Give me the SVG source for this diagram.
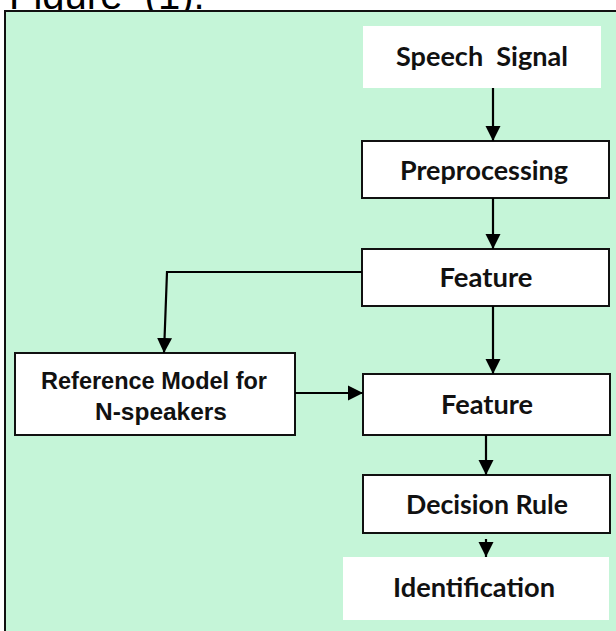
<svg xmlns="http://www.w3.org/2000/svg" width="616" height="631" viewBox="0 0 616 631">
  <style>
    .panel { fill: #c5f5d8; stroke: #111; stroke-width: 2; }
    .box { fill: #fff; stroke: #111; stroke-width: 2; }
    .plain { fill: #fff; stroke: none; }
    .lbl { font-family: Lato, "Open Sans", sans-serif; font-weight: 700; font-size: 27.5px; fill: #111; text-anchor: middle; white-space: pre; }
    .lbl2 { font-family: "Liberation Sans", Arial, sans-serif; font-weight: 700; font-size: 24px; fill: #111; text-anchor: middle; }
    .cap { font-family: "Liberation Sans", Arial, sans-serif; font-size: 40px; fill: #000; white-space: pre; }
    .wire { fill: none; stroke: #000; stroke-width: 2.2; marker-end: url(#arrow); }
  </style>
  <defs>
    <marker id="arrow" markerUnits="userSpaceOnUse" markerWidth="16" markerHeight="16" refX="15" refY="8" orient="auto" viewBox="0 0 16 16">
      <path d="M0,0.5 L15,8 L0,15.5 Z" fill="#000"/>
    </marker>
  </defs>

  <rect width="616" height="631" fill="#fff"/>
  <text class="cap" x="9" y="9" xml:space="preserve">Figure  (1).</text>
  <rect class="panel" x="5" y="11" width="630" height="640"/>

  <g id="speech-signal">
    <rect class="plain" x="363" y="26" width="238" height="62"/>
    <text class="lbl" x="482" y="66" textLength="172" lengthAdjust="spacingAndGlyphs" xml:space="preserve">Speech  Signal</text>
  </g>
  <g id="preprocessing">
    <rect class="box" x="362" y="141" width="247" height="57"/>
    <text class="lbl" x="484" y="180" textLength="168" lengthAdjust="spacingAndGlyphs">Preprocessing</text>
  </g>
  <g id="feature-1">
    <rect class="box" x="362" y="249" width="247" height="57"/>
    <text class="lbl" x="486" y="287" textLength="93" lengthAdjust="spacingAndGlyphs">Feature</text>
  </g>
  <g id="reference-model">
    <rect class="box" x="15" y="353" width="280" height="82"/>
    <text class="lbl2" x="154" y="389" textLength="226" lengthAdjust="spacingAndGlyphs">Reference Model for</text>
    <text class="lbl2" x="161" y="420" textLength="132" lengthAdjust="spacingAndGlyphs">N-speakers</text>
  </g>
  <g id="feature-2">
    <rect class="box" x="363" y="374" width="247" height="61"/>
    <text class="lbl" x="487" y="414" textLength="92" lengthAdjust="spacingAndGlyphs">Feature</text>
  </g>
  <g id="decision-rule">
    <rect class="box" x="363" y="475" width="247" height="58"/>
    <text class="lbl" x="487" y="514" textLength="162" lengthAdjust="spacingAndGlyphs">Decision Rule</text>
  </g>
  <g id="identification">
    <rect class="plain" x="343" y="557" width="266" height="63"/>
    <text class="lbl" x="474" y="597" textLength="162" lengthAdjust="spacingAndGlyphs">Identification</text>
  </g>

  <g id="connectors">
    <line class="wire" x1="493" y1="88" x2="493" y2="141"/>
    <line class="wire" x1="493" y1="198" x2="493" y2="249"/>
    <polyline class="wire" points="362,272 167,272 164,353"/>
    <line class="wire" x1="493" y1="306" x2="493" y2="374"/>
    <line class="wire" x1="295" y1="393" x2="363" y2="393"/>
    <line class="wire" x1="486" y1="435" x2="486" y2="475"/>
    <line class="wire" x1="486" y1="539" x2="486" y2="557"/>
  </g>
</svg>
